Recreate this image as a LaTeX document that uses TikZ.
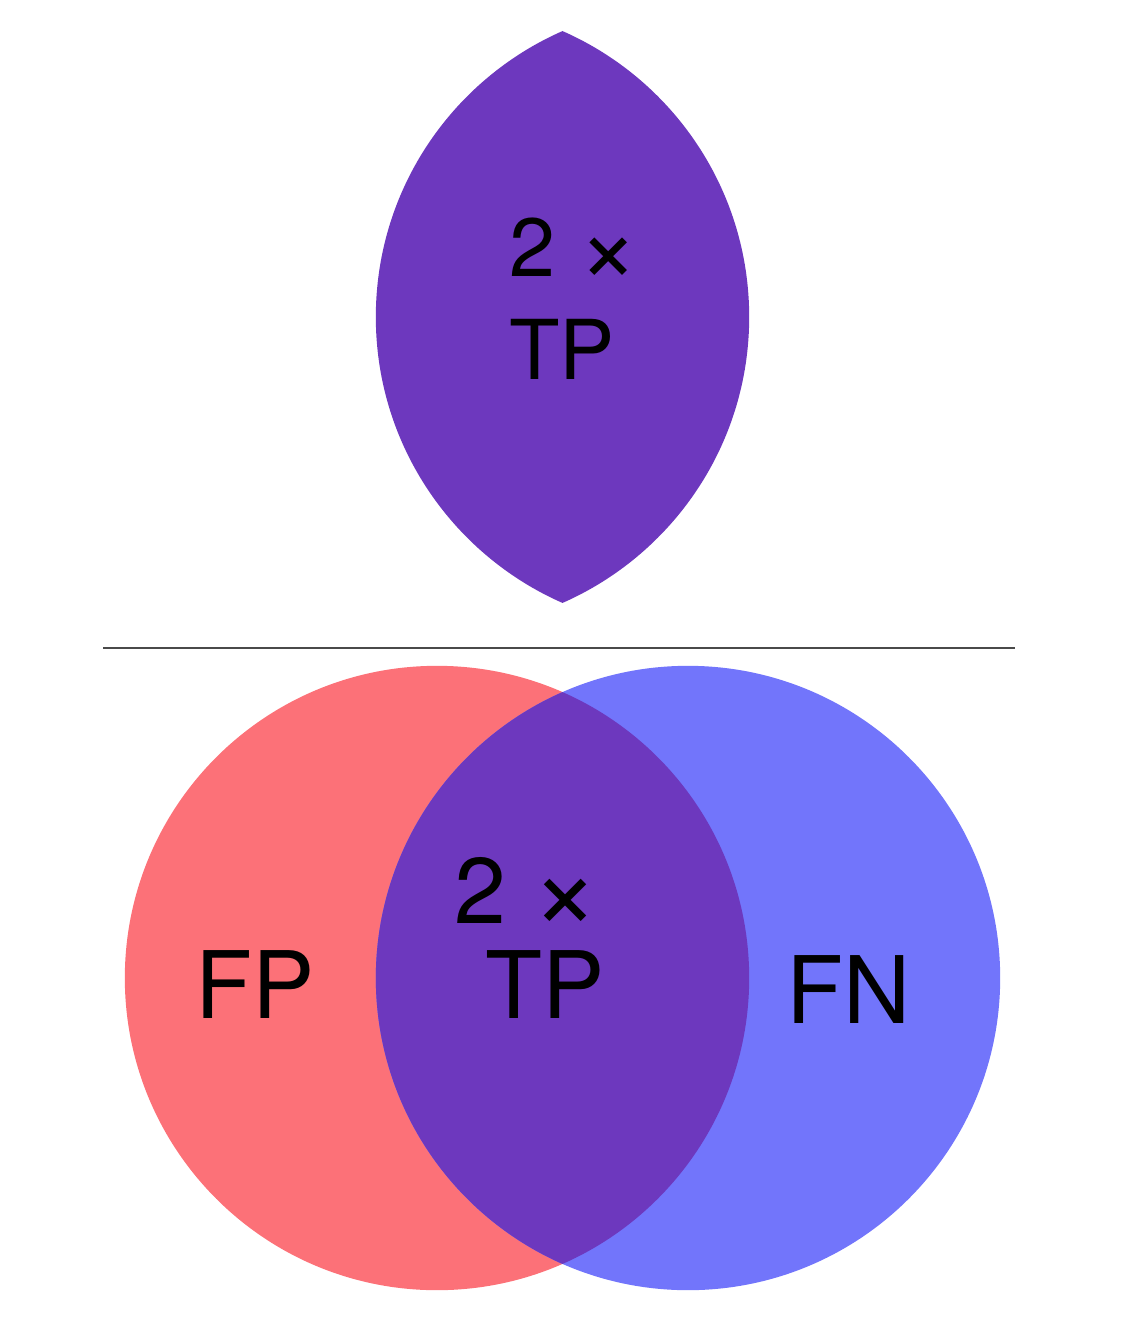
\documentclass[tikz,border=0pt]{standalone}
\usepackage{fontspec}
\usepackage{graphicx}
\setmainfont{TeX Gyre Heros}
\newcommand{\vtimes}{\raisebox{-0.07em}{\scalebox{1.25}{×}}}
\begin{document}
\begin{tikzpicture}[x=0.01cm,y=-0.01cm,font=\fontsize{23.5}{28}\selectfont]
  \definecolor{vred}{HTML}{FC7178}
  \definecolor{vblue}{HTML}{7275FB}
  \definecolor{vboth}{HTML}{6D38BE}
  \definecolor{vrule}{HTML}{4A4A4A}
  \path[use as bounding box] (0,0) rectangle (1132,1331);
  % top: overlap only
  \begin{scope}
    \clip (437,317) circle (3.12cm);
    \fill[vboth] (688,317) circle (3.12cm);
  \end{scope}
  \node[anchor=base] (topTwo) at (574,277) {2 \vtimes};
  \node[anchor=base] (topTP) at (562,380) {TP};
  % separator
  \draw[vrule,line width=0.6pt] (103,648) -- (1015,648);
  % bottom: both sets
  \fill[vred] (437,978) circle (3.12cm);
  \fill[vblue] (688,978) circle (3.12cm);
  \begin{scope}
    \clip (437,978) circle (3.12cm);
    \fill[vboth] (688,978) circle (3.12cm);
  \end{scope}
  \foreach \x/\y/\txt/\name in {
    527/923/{2 \vtimes}/botTwo,
    545/1018/{TP}/botTP,
    255/1018/{FP}/botFP,
    849/1023/{FN}/botFN
  }{
    \node[anchor=base,font=\fontsize{26.5}{31}\selectfont] (\name) at (\x,\y) {\txt};
  }
\end{tikzpicture}
\end{document}
